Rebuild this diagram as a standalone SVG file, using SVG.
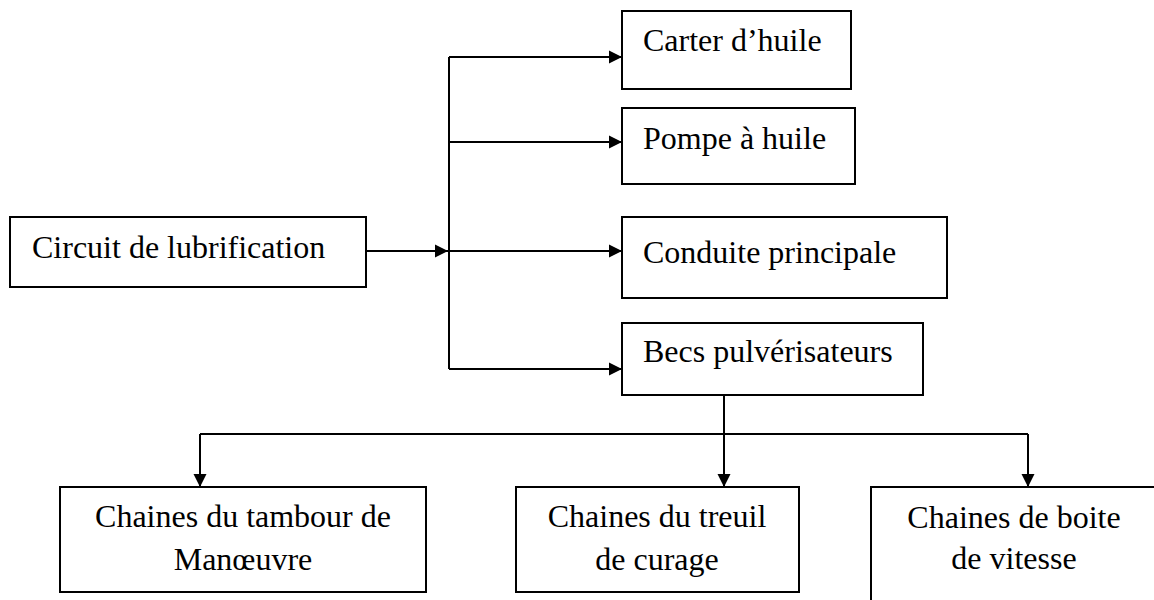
<svg xmlns="http://www.w3.org/2000/svg" width="1154" height="600" viewBox="0 0 1154 600">
  <style>
    .box { fill: #ffffff; stroke: #000000; stroke-width: 2; }
    .lbl { font-family: "Liberation Serif", "Times New Roman", serif; font-size: 32px; fill: #000000; }
    .mid { text-anchor: middle; }
    .wire { fill: none; stroke: #000000; stroke-width: 2; }
  </style>
  <defs>
    <marker id="arrow" markerUnits="userSpaceOnUse" markerWidth="14" markerHeight="14" refX="13" refY="7" orient="auto">
      <path d="M0,0.5 L13,7 L0,13.5 Z" fill="#000000"/>
    </marker>
  </defs>

  <rect width="1154" height="600" fill="#ffffff"/>

  <!-- connectors -->
  <g id="connectors">
    <line class="wire" x1="366" y1="251" x2="448" y2="251" marker-end="url(#arrow)"/>
    <line class="wire" x1="449" y1="57" x2="449" y2="369"/>
    <line class="wire" x1="449" y1="57" x2="622" y2="57" marker-end="url(#arrow)"/>
    <line class="wire" x1="449" y1="142" x2="622" y2="142" marker-end="url(#arrow)"/>
    <line class="wire" x1="449" y1="251" x2="622" y2="251" marker-end="url(#arrow)"/>
    <line class="wire" x1="449" y1="369" x2="622" y2="369" marker-end="url(#arrow)"/>
    <line class="wire" x1="724" y1="395" x2="724" y2="487" marker-end="url(#arrow)"/>
    <line class="wire" x1="200" y1="434" x2="1028" y2="434"/>
    <line class="wire" x1="200" y1="434" x2="200" y2="487" marker-end="url(#arrow)"/>
    <line class="wire" x1="1028" y1="434" x2="1028" y2="487" marker-end="url(#arrow)"/>
  </g>

  <!-- nodes -->
  <g id="circuit">
    <rect class="box" x="10" y="217" width="356" height="70"/>
    <text class="lbl" x="32" y="258">Circuit de lubrification</text>
  </g>
  <g id="carter">
    <rect class="box" x="622" y="11" width="229" height="78"/>
    <text class="lbl" x="643" y="51">Carter d’huile</text>
  </g>
  <g id="pompe">
    <rect class="box" x="622" y="108" width="233" height="76"/>
    <text class="lbl" x="643" y="149">Pompe à huile</text>
  </g>
  <g id="conduite">
    <rect class="box" x="622" y="217" width="325" height="81"/>
    <text class="lbl" x="643" y="263">Conduite principale</text>
  </g>
  <g id="becs">
    <rect class="box" x="622" y="323" width="301" height="72"/>
    <text class="lbl" x="643" y="362">Becs pulvérisateurs</text>
  </g>
  <g id="tambour">
    <rect class="box" x="60" y="487" width="366" height="105"/>
    <text class="lbl mid" x="243" y="527">Chaines du tambour de</text>
    <text class="lbl mid" x="243" y="570">Manœuvre</text>
  </g>
  <g id="treuil">
    <rect class="box" x="516" y="487" width="283" height="105"/>
    <text class="lbl mid" x="657" y="527">Chaines du treuil</text>
    <text class="lbl mid" x="657" y="570">de curage</text>
  </g>
  <g id="boite">
    <rect class="box" x="871" y="487" width="300" height="130"/>
    <text class="lbl mid" x="1014" y="528">Chaines de boite</text>
    <text class="lbl mid" x="1014" y="569">de vitesse</text>
  </g>
</svg>
